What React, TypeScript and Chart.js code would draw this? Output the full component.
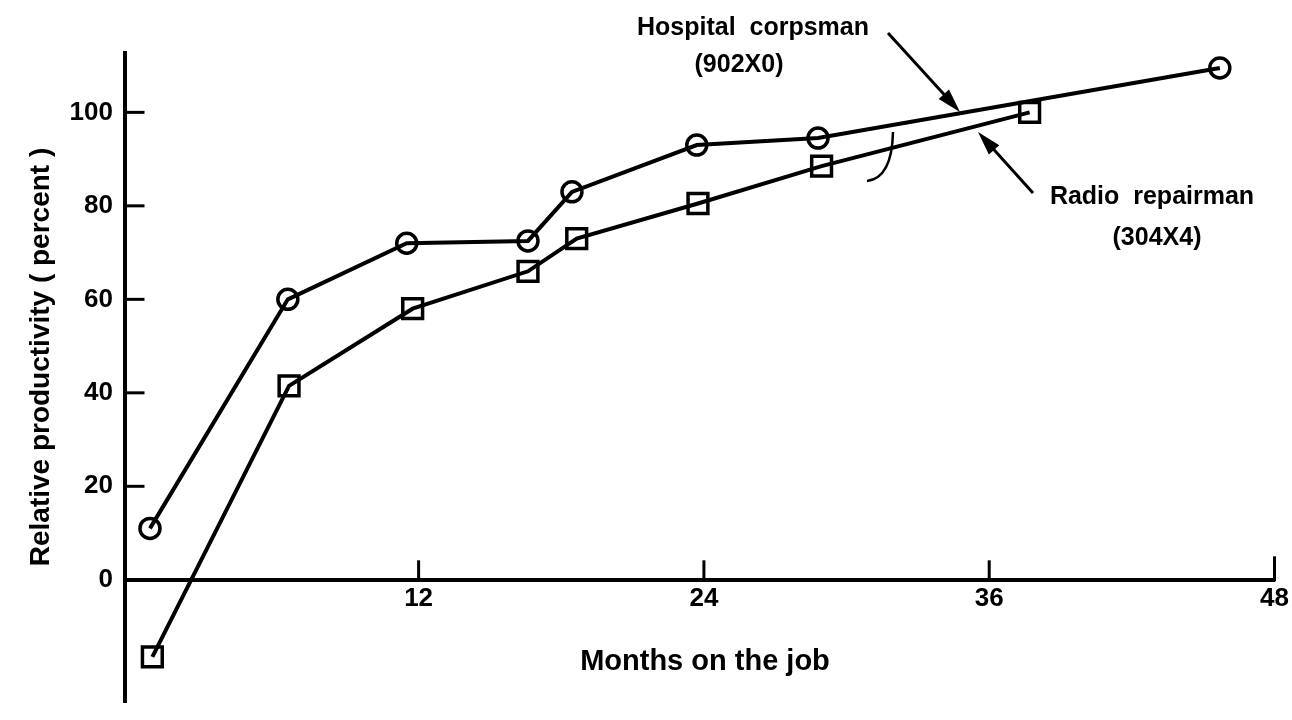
import React, { useEffect, useRef } from "react";
import { Chart, registerables } from "chart.js";

Chart.register(...registerables);

// ---- data ----
const hospitalMonths = [0.7, 6.5, 11.5, 16.6, 18.45, 23.7, 28.8, 45.7];
const hospitalValues = [11, 60, 72, 72.5, 83, 93, 94.5, 109.5];
const radioMonths = [0.8, 6.55, 11.75, 16.6, 18.65, 23.75, 28.95, 37.7];
const radioValues = [-16.5, 41.5, 58, 66, 73, 80.5, 88.5, 100];

const xTickValues = [12, 24, 36, 48];
const yTickValues = [0, 20, 40, 60, 80, 100];

const xTitle = "Months on the job";
const yTitle = "Relative productivity ( percent )";
const hospitalLabel = ["Hospital  corpsman", "(902X0)"];
const radioLabel = ["Radio  repairman", "(304X4)"];

const FONT = "'Liberation Sans', Arial, sans-serif";

function toPoints(xs: number[], ys: number[]) {
  return xs.map((x, i) => ({ x, y: ys[i] }));
}

function arrow(ctx: CanvasRenderingContext2D, x1: number, y1: number, x2: number, y2: number) {
  const ang = Math.atan2(y2 - y1, x2 - x1);
  const headLen = 24;
  const headW = 7;
  ctx.beginPath();
  ctx.moveTo(x1, y1);
  ctx.lineTo(x2 - Math.cos(ang) * headLen * 0.8, y2 - Math.sin(ang) * headLen * 0.8);
  ctx.stroke();
  ctx.beginPath();
  ctx.moveTo(x2, y2);
  ctx.lineTo(
    x2 - Math.cos(ang) * headLen - Math.sin(ang) * headW,
    y2 - Math.sin(ang) * headLen + Math.cos(ang) * headW
  );
  ctx.lineTo(
    x2 - Math.cos(ang) * headLen + Math.sin(ang) * headW,
    y2 - Math.sin(ang) * headLen - Math.cos(ang) * headW
  );
  ctx.closePath();
  ctx.fill();
}

const decorations = {
  id: "decorations",
  afterDraw(chart: any) {
    const { ctx, scales } = chart;
    const x = scales.x;
    const y = scales.y;
    const y0 = y.getPixelForValue(0);
    ctx.save();
    ctx.strokeStyle = "#000";
    ctx.fillStyle = "#000";
    ctx.lineCap = "square";
    ctx.lineWidth = 3;
    // inward tick marks on x axis
    xTickValues.forEach((v) => {
      const px = x.getPixelForValue(v);
      ctx.beginPath();
      ctx.moveTo(px, y0);
      ctx.lineTo(px, y0 - (v === 48 ? 22 : 18));
      ctx.stroke();
    });
    // inward tick marks on y axis
    yTickValues
      .filter((v) => v > 0)
      .forEach((v) => {
        const py = y.getPixelForValue(v);
        ctx.beginPath();
        ctx.moveTo(x.left, py);
        ctx.lineTo(x.left + 18, py);
        ctx.stroke();
      });

    // axis titles
    ctx.font = `bold 29px ${FONT}`;
    ctx.textAlign = "center";
    ctx.textBaseline = "middle";
    ctx.fillText(xTitle, 705, 662);
    ctx.save();
    ctx.translate(41, 357);
    ctx.rotate(-Math.PI / 2);
    ctx.font = `bold 28px ${FONT}`;
    ctx.fillText(yTitle, 0, 0);
    ctx.restore();

    // series labels
    ctx.font = `bold 25px ${FONT}`;
    ctx.fillText(hospitalLabel[0], 753, 28);
    ctx.fillText(hospitalLabel[1], 739, 65);
    ctx.fillText(radioLabel[0], 1152, 197);
    ctx.fillText(radioLabel[1], 1157, 238);

    // arrows
    ctx.lineCap = "butt";
    ctx.lineWidth = 3;
    arrow(ctx, 888, 33, 960, 112);
    arrow(ctx, 1033, 193, 978, 132);

    // small hand-drawn bracket
    ctx.lineWidth = 2.5;
    ctx.beginPath();
    ctx.moveTo(893, 132);
    ctx.quadraticCurveTo(892, 178, 867, 181);
    ctx.stroke();

    ctx.restore();
  },
};

export default function App() {
  const canvasRef = useRef<HTMLCanvasElement | null>(null);

  useEffect(() => {
    if (!canvasRef.current) return;
    const lineStyle = {
      borderColor: "#000",
      borderWidth: 4,
      pointBorderColor: "#000",
      pointBackgroundColor: "rgba(255,255,255,0)",
      pointBorderWidth: 3.5,
      tension: 0,
      fill: false,
      showLine: true,
    };
    const chart = new Chart(canvasRef.current, {
      type: "scatter",
      data: {
        datasets: [
          {
            label: "Hospital corpsman (902X0)",
            data: toPoints(hospitalMonths, hospitalValues),
            pointStyle: "circle",
            pointRadius: 10,
            ...lineStyle,
          },
          {
            label: "Radio repairman (304X4)",
            data: toPoints(radioMonths, radioValues),
            pointStyle: "rect",
            pointRadius: 14,
            ...lineStyle,
          },
        ],
      },
      options: {
        responsive: false,
        animation: false,
        layout: { padding: { left: 0, top: 53, right: 16, bottom: 0 } },
        plugins: {
          legend: { display: false },
          tooltip: { enabled: false },
        },
        scales: {
          x: {
            type: "linear",
            position: { y: 0 } as any,
            min: -0.35,
            max: 48,
            afterFit: (scale: any) => {
              scale.height = 0;
              scale.paddingLeft = 0;
              scale.paddingRight = 0;
              scale.paddingTop = 0;
              scale.paddingBottom = 0;
            },
            border: { display: true, color: "#000", width: 4 },
            grid: { display: true, drawOnChartArea: false, drawTicks: false, color: "rgba(0,0,0,0)" },
            ticks: {
              stepSize: 12,
              includeBounds: false,
              padding: 3,
              color: "#000",
              font: { family: FONT, weight: "bold", size: 26 },
              callback: (v: any) => (xTickValues.includes(Number(v)) ? String(v) : ""),
            },
          },
          y: {
            type: "linear",
            position: "left",
            min: -26.25,
            max: 112.7,
            afterFit: (scale: any) => {
              scale.width = 125;
              scale.paddingLeft = 0;
              scale.paddingRight = 0;
              scale.paddingTop = 0;
              scale.paddingBottom = 0;
            },
            border: { display: true, color: "#000", width: 4 },
            grid: { display: true, drawOnChartArea: false, drawTicks: false, color: "rgba(0,0,0,0)" },
            ticks: {
              stepSize: 20,
              includeBounds: false,
              padding: 12,
              color: "#000",
              font: { family: FONT, weight: "bold", size: 26 },
              callback: (v: any) => (yTickValues.includes(Number(v)) ? String(v) : ""),
            },
          },
        },
      },
      plugins: [decorations],
    });
    return () => chart.destroy();
  }, []);

  return (
    <div style={{ position: "fixed", left: 0, top: 0, width: 1292, height: 720, background: "#fff" }}>
      <canvas ref={canvasRef} width={1292} height={720} />
    </div>
  );
}
